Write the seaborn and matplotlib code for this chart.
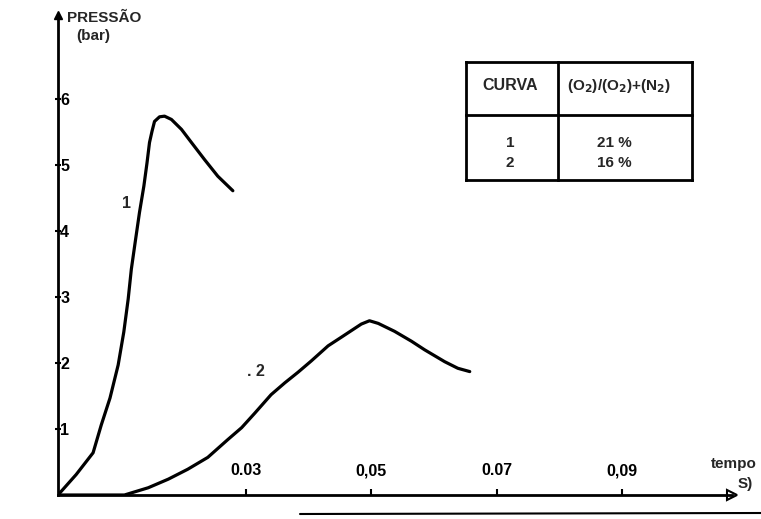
import numpy as np
import pandas as pd
import matplotlib
matplotlib.use("Agg")
import matplotlib.pyplot as plt
import seaborn as sns
from matplotlib.lines import Line2D

# ---- data ----
t1 = [0.0, 0.0029, 0.0056, 0.0069, 0.0083, 0.0096, 0.0105, 0.0112, 0.0117,
      0.0123, 0.0130, 0.0137, 0.0142, 0.0146, 0.0150, 0.0154, 0.0162, 0.0170,
      0.0181, 0.0197, 0.0213, 0.0234, 0.0255, 0.0279]
p1 = [0.0, 0.31, 0.64, 1.06, 1.47, 1.97, 2.47, 2.97, 3.42,
      3.82, 4.28, 4.68, 5.03, 5.34, 5.51, 5.66, 5.73, 5.74,
      5.69, 5.54, 5.34, 5.08, 4.83, 4.61]

t2 = [0.0, 0.0106, 0.0144, 0.0176, 0.0207, 0.0239, 0.0271, 0.0293, 0.0314,
      0.0340, 0.0362, 0.0383, 0.0404, 0.0431, 0.0452, 0.0468, 0.0484, 0.0497,
      0.0511, 0.0537, 0.0564, 0.0585, 0.0617, 0.0638, 0.0657]
p2 = [0.0, 0.0, 0.11, 0.24, 0.39, 0.57, 0.84, 1.02, 1.24,
      1.52, 1.70, 1.86, 2.03, 2.26, 2.39, 2.49, 2.59, 2.64,
      2.60, 2.48, 2.33, 2.20, 2.02, 1.92, 1.87]

x_ticks = [0.03, 0.05, 0.07, 0.09]
x_tick_labels = ["0.03", "0,05", "0.07", "0,09"]
y_ticks = [1, 2, 3, 4, 5, 6]
y_tick_labels = ["1", "2", "3", "4", "5", "6"]

table_header = ["CURVA", "(O$_2$)/(O$_2$)+(N$_2$)"]
table_curves = ["1", "2"]
table_values = ["21 %", "16 %"]

curve_labels = ["1", ". 2"]

df = pd.concat([
    pd.DataFrame({"tempo": t1, "pressao": p1, "curva": "1"}),
    pd.DataFrame({"tempo": t2, "pressao": p2, "curva": "2"}),
])

# ---- style ----
sns.set_theme(style="white")
plt.rcParams["font.family"] = ["Liberation Sans", "DejaVu Sans"]
plt.rcParams["font.weight"] = "bold"
plt.rcParams["mathtext.default"] = "bf"

W, H = 761, 519
Y0 = 495
fig = plt.figure(figsize=(W / 100, H / 100), dpi=100)
ax_left, ax_bottom = 58 / W, (H - Y0) / H
ax_w, ax_h = (732 - 58) / W, (Y0 - 15) / H
ax = fig.add_axes([ax_left, ax_bottom, ax_w, ax_h])

sns.lineplot(data=df, x="tempo", y="pressao", units="curva", estimator=None,
             sort=False, color="black", linewidth=2.3, ax=ax, legend=False)
for ln in ax.get_lines():
    ln.set_solid_joinstyle("round")
    ln.set_solid_capstyle("round")

ax.set_xlim(0, (732 - 58) / 6267)
ax.set_ylim(0, (Y0 - 15) / 66)
ax.set_xlabel("")
ax.set_ylabel("")

for s in ["top", "right"]:
    ax.spines[s].set_visible(False)
for s in ["left", "bottom"]:
    ax.spines[s].set_color("black")
    ax.spines[s].set_linewidth(2.0)

ax.set_xticks(x_ticks)
ax.set_xticklabels(x_tick_labels, fontsize=11.5, fontweight="bold")
ax.set_yticks(y_ticks)
ax.set_yticklabels(y_tick_labels, fontsize=11.5, fontweight="bold")
ax.tick_params(axis="x", direction="in", length=4, width=1.5, pad=-23,
               colors="black", bottom=True)
ax.tick_params(axis="y", direction="inout", length=5, width=1.5, pad=-4,
               colors="black", left=True)
for lab in ax.get_yticklabels():
    lab.set_horizontalalignment("left")

# axis arrows
ax.plot([0], [1], marker="^", color="black", markersize=6,
        transform=ax.transAxes, clip_on=False)
ax.plot([1], [0], marker=">", color="black", markersize=7, markerfacecolor="none",
        markeredgewidth=1.5, transform=ax.transAxes, clip_on=False)

# axis titles
fig.text(67 / W, 1 - 18 / H, "PRESSÃO", fontsize=11, fontweight="bold",
         ha="left", va="center")
fig.text(76 / W, 1 - 36 / H, "(bar)", fontsize=11, fontweight="bold",
         ha="left", va="center")
fig.text(734 / W, 1 - 464 / H, "tempo", fontsize=11, fontweight="bold",
         ha="center", va="center")
fig.text(738 / W, 1 - 484 / H, "S)", fontsize=11, fontweight="bold",
         ha="left", va="center")

# curve labels
fig.text(126 / W, 1 - 203 / H, curve_labels[0], fontsize=11.5, fontweight="bold",
         ha="center", va="center")
fig.text(256 / W, 1 - 371 / H, curve_labels[1], fontsize=11.5, fontweight="bold",
         ha="center", va="center")

# table
tx0, tx1, txm = 466, 692, 558
ty0, ty1, tym = 62, 180, 115
def fx(px): return px / W
def fy(py): return 1 - py / H
lw = 2.0
for (xa, ya, xb, yb) in [(tx0, ty0, tx1, ty0), (tx0, ty1, tx1, ty1),
                         (tx0, ty0, tx0, ty1), (tx1, ty0, tx1, ty1),
                         (txm, ty0, txm, ty1), (tx0, tym, tx1, tym)]:
    fig.add_artist(Line2D([fx(xa), fx(xb)], [fy(ya), fy(yb)], color="black", lw=lw,
                          solid_capstyle="projecting"))

fig.text(fx(510), fy(86), table_header[0], fontsize=11.5, fontweight="bold",
         ha="center", va="center")
fig.text(fx(619), fy(86), table_header[1], fontsize=11, fontweight="bold",
         ha="center", va="center")
for i, (c, v) in enumerate(zip(table_curves, table_values)):
    y = 143 + i * 20
    fig.text(fx(510), fy(y), c, fontsize=11, fontweight="bold", ha="center", va="center")
    fig.text(fx(614), fy(y), v, fontsize=11, fontweight="bold", ha="center", va="center")

# stray scan rule at the bottom
fig.add_artist(Line2D([fx(300), fx(761)], [fy(514), fy(513)], color="black", lw=1.5))

fig.savefig("out.png", dpi=100, facecolor="white")
